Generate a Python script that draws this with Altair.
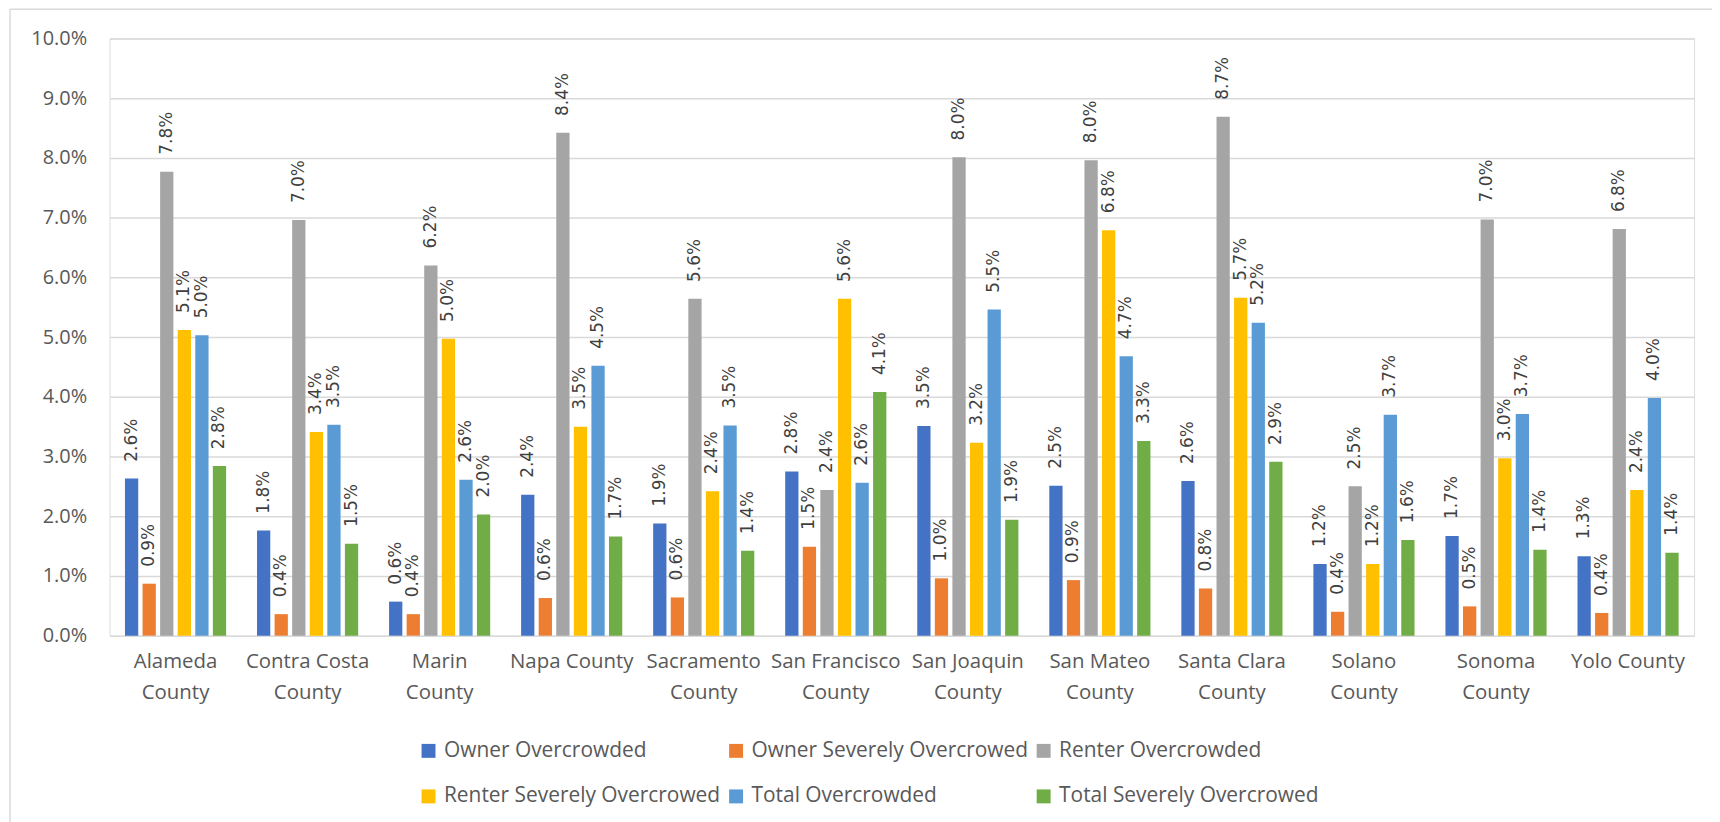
import altair as alt
import pandas as pd

counties = ["Alameda County", "Contra Costa County", "Marin County", "Napa County",
            "Sacramento County", "San Francisco County", "San Joaquin County",
            "San Mateo County", "Santa Clara County", "Solano County",
            "Sonoma County", "Yolo County"]

series_names = ["Owner Overcrowded", "Owner Severely Overcrowed", "Renter Overcrowded",
                "Renter Severely Overcrowed", "Total Overcrowded", "Total Severely Overcrowed"]

series_colors = ["#4472C4", "#ED7D31", "#A5A5A5", "#FFC000", "#5B9BD5", "#70AD47"]

# values in percent
owner_over = [2.63, 1.76, 0.57, 2.36, 1.88, 2.75, 3.51, 2.51, 2.59, 1.20, 1.67, 1.33]
owner_sev = [0.87, 0.36, 0.36, 0.63, 0.64, 1.49, 0.96, 0.93, 0.79, 0.40, 0.49, 0.38]
renter_over = [7.77, 6.96, 6.20, 8.42, 5.64, 2.44, 8.01, 7.96, 8.69, 2.50, 6.97, 6.81]
renter_sev = [5.12, 3.41, 4.97, 3.50, 2.42, 5.64, 3.23, 6.79, 5.66, 1.20, 2.97, 2.44]
total_over = [5.03, 3.53, 2.61, 4.52, 3.52, 2.56, 5.46, 4.68, 5.24, 3.70, 3.71, 3.98]
total_sev = [2.84, 1.54, 2.03, 1.66, 1.42, 4.08, 1.94, 3.26, 2.91, 1.60, 1.44, 1.39]

y_ticks = [0.0, 0.01, 0.02, 0.03, 0.04, 0.05, 0.06, 0.07, 0.08, 0.09, 0.10]
single_line_labels = ["Napa County", "Yolo County"]

all_series = [owner_over, owner_sev, renter_over, renter_sev, total_over, total_sev]
rows = []
for name, vals in zip(series_names, all_series):
    for c, v in zip(counties, vals):
        rows.append({"County": c, "Series": name, "Value": v / 100.0})
df = pd.DataFrame(rows)

LABEL_FONT = "Open Sans"
GRID = "#d9d9d9"
TXT = "#595959"

single_js = "[" + ",".join("'" + s + "'" for s in single_line_labels) + "]"
label_expr = (f"indexof({single_js}, datum.value) >= 0 ? datum.value : "
              "split(replace(datum.value, ' County', '|County'), '|')")

x_enc = alt.X("County:N", sort=counties,
              scale=alt.Scale(paddingInner=0.234, paddingOuter=0.117),
              axis=alt.Axis(title=None, labelAngle=0, domain=False, ticks=False,
                            labelFont=LABEL_FONT, labelFontSize=20.5, labelColor=TXT,
                            labelPadding=16, labelLineHeight=31, labelExpr=label_expr,
                            labelBaseline="top"))
xoff_enc = alt.XOffset("Series:N", sort=series_names,
                       scale=alt.Scale(paddingInner=0.245, paddingOuter=0))
y_enc = alt.Y("Value:Q",
              scale=alt.Scale(domain=[0, 0.10], nice=False),
              axis=alt.Axis(title=None, values=y_ticks, format=".1%", domain=False,
                            ticks=False, grid=True, gridColor=GRID, gridWidth=1.5,
                            labelFont=LABEL_FONT, labelFontSize=20, labelColor=TXT,
                            labelPadding=23))

base = alt.Chart(df)

bars = base.mark_bar().encode(
    x=x_enc,
    xOffset=xoff_enc,
    y=y_enc,
    color=alt.Color("Series:N", sort=series_names,
                    scale=alt.Scale(domain=series_names, range=series_colors),
                    legend=alt.Legend(title=None, orient="none", legendX=310, legendY=705,
                                      direction="horizontal", columns=3,
                                      symbolType="square", symbolSize=196,
                                      symbolStrokeWidth=0, labelOffset=5,
                                      labelFont=LABEL_FONT, labelFontSize=21,
                                      labelColor=TXT, columnPadding=5, rowPadding=24,
                                      labelLimit=400, padding=0)),
)

labels = base.mark_text(angle=270, align="left", baseline="middle", dx=17,
                        font="DejaVu Sans", fontSize=17, color="#404040").encode(
    x=alt.X("County:N", sort=counties),
    xOffset=alt.XOffset("Series:N", sort=series_names),
    y=alt.Y("Value:Q"),
    text=alt.Text("Value:Q", format=".1%"),
)

frame_data = alt.Data(values=[{"k": 1}])
top_border = alt.Chart(frame_data).mark_rule(color=GRID, strokeWidth=1.5).encode(
    x=alt.value(-100), x2=alt.value(1610), y=alt.value(-29.4))
left_border = alt.Chart(frame_data).mark_rule(color=GRID, strokeWidth=1.5).encode(
    x=alt.value(-100), y=alt.value(-29.4), y2=alt.value(800))

chart = alt.layer(top_border, left_border, bars, labels).properties(
    width=1592, height=600,
    autosize=alt.AutoSizeParams(type="none"),
    padding={"left": 102, "top": 28.7, "right": 18, "bottom": 185},
).configure_view(stroke=None).configure(background="white")

chart.save("out.html", embed_options={"renderer": "svg", "actions": False})
